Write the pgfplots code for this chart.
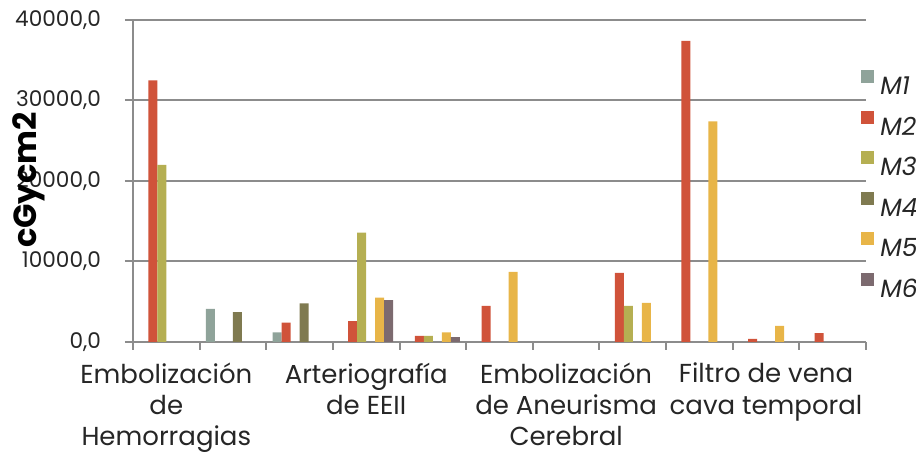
\documentclass[border=0pt]{standalone}
\usepackage{pgfplots}
\pgfplotsset{compat=1.18}
\usepackage{fontspec}
\setmainfont{Poppins}
\definecolor{cM1}{HTML}{8FA39A}
\definecolor{cM2}{HTML}{D0533A}
\definecolor{cM3}{HTML}{B5AF52}
\definecolor{cM4}{HTML}{7F7A50}
\definecolor{cM5}{HTML}{E8B548}
\definecolor{cM6}{HTML}{7C6A6F}
\definecolor{axgray}{HTML}{8C8C8C}
\definecolor{txt}{HTML}{262626}
\begin{document}
\begin{tikzpicture}
\path[use as bounding box] (-66.5pt,-56pt) rectangle (391.5pt,171pt);
\begin{axis}[
  scale only axis,
  width=366.5pt, height=161pt,
  ybar=0pt, bar width=4.5pt,
  xmin=-0.5, xmax=10.5,
  ymin=0, ymax=40000,
  axis x line*=bottom, axis y line*=left,
  axis line style={axgray, line width=1pt},
  ytick={0,10000,20000,30000,40000},
  scaled y ticks=false,
  ymajorgrids,
  grid style={axgray, line width=1pt},
  tick style={axgray, line width=1pt},
  tick align=outside,
  major tick length=4pt,
  xtick={-0.5,0.5,...,10.5},
  xticklabels={},
  extra x ticks={0,3,6,9},
  extra x tick labels={{Embolización\\de\\Hemorragias},{Arteriografía\\de EEII},{Embolización\\de Aneurisma\\Cerebral},{Filtro de vena\\cava temporal}},
  extra x tick style={major tick length=0pt, grid=none,
     tick label style={align=center, text=txt, font=\fontsize{13}{15.6}\selectfont, anchor=north, yshift=-7pt}},
  /pgf/number format/assume math mode=true,
  yticklabel style={/pgf/number format/fixed, /pgf/number format/fixed zerofill, /pgf/number format/precision=1, /pgf/number format/use comma, /pgf/number format/1000 sep={}},
  yticklabel style={text=txt, font=\fontsize{10.8}{12}\selectfont, xshift=-8.5pt},
  ylabel={cGycm2},
  every axis y label/.style={at={(axis description cs:-0.142,0.503)}, rotate=90, anchor=center,
     font=\bfseries\fontsize{16}{19}\selectfont, text=black},
  legend style={draw=none, fill=none, at={(axis description cs:0.985,0.857)}, anchor=north west,
    font=\itshape\fontsize{12.5}{14}\selectfont, text=txt,
    row sep=8.0pt,
    nodes={text height=9pt, text depth=0pt, inner sep=0pt, inner xsep=3pt}},
  legend cell align=left,
  legend image code/.code={\fill[#1, draw=none] (0pt,1.25pt) rectangle (6.5pt,7.75pt);},
]
\addplot[fill=cM1, draw=none] coordinates {(1,4100) (2,1200)};
\addplot[fill=cM2, draw=none] coordinates {(0,32500) (2,2400) (3,2600) (4,750) (5,4500) (7,8600) (8,37400) (9,400) (10,1100)};
\addplot[fill=cM3, draw=none] coordinates {(0,22000) (3,13600) (4,750) (7,4500)};
\addplot[fill=cM4, draw=none] coordinates {(1,3700) (2,4800)};
\addplot[fill=cM5, draw=none] coordinates {(3,5500) (4,1200) (5,8700) (7,4850) (8,27400) (9,2000)};
\addplot[fill=cM6, draw=none] coordinates {(3,5200) (4,600)};
\legend{M1,M2,M3,M4,M5,M6}
\end{axis}
\end{tikzpicture}
\end{document}
